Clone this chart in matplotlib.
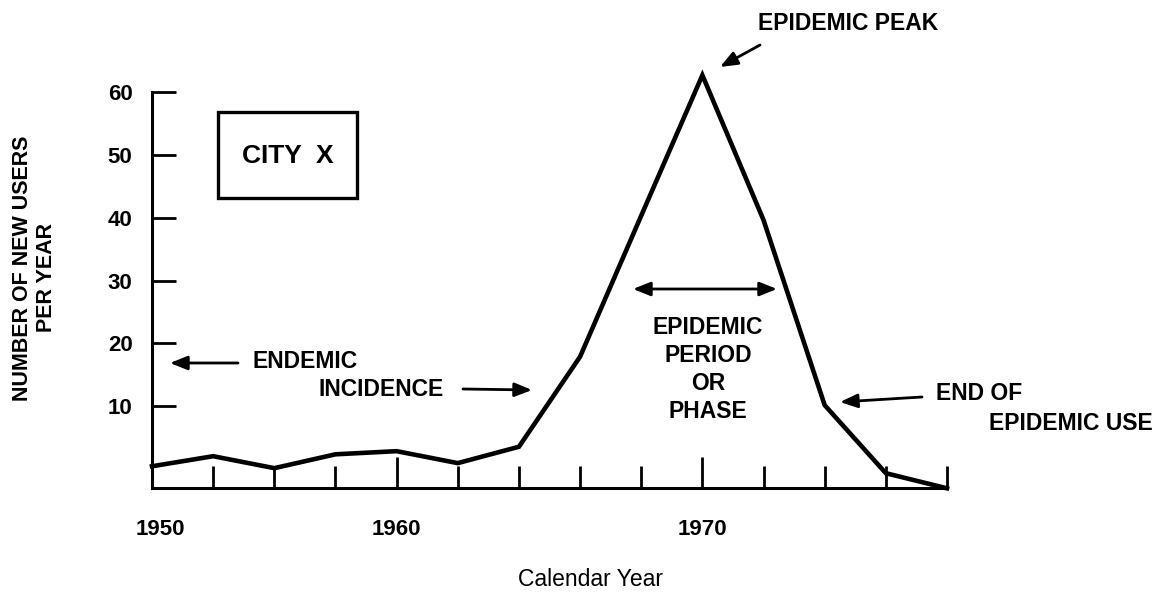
import matplotlib
matplotlib.use('Agg')
import matplotlib.pyplot as plt
import matplotlib.transforms as mtransforms
from matplotlib.patches import Rectangle, FancyArrowPatch

# ---- data ----
period_index = list(range(14))            # one tick per period along the time axis
new_users = [0.5, 2.1, 0.2, 2.4, 2.9, 1.0, 3.6, 17.9, 40.3, 62.6, 39.6, 10.2, -0.6, -3.0]
year_tick_index = [0, 4, 9]
year_tick_labels = ['1950', '1960', '1970']
y_ticks = [10, 20, 30, 40, 50, 60]
period_lines = ['EPIDEMIC', 'PERIOD', 'OR', 'PHASE']

plt.rcParams['font.family'] = ['Liberation Sans', 'DejaVu Sans']

W, H = 1162, 594
fig = plt.figure(figsize=(W / 100, H / 100), dpi=100)


def fx(x):
    return x / W


def fy(y):
    return 1 - y / H


left, right, top, bottom = 152, 947, 91.6, 488
ax = fig.add_axes([fx(left), fy(bottom), (right - left) / W, (bottom - top) / H])
ax.plot(period_index, new_users, color='black', lw=3.3, solid_joinstyle='miter',
        clip_on=False, zorder=3)
ax.set_xlim(0, 13)
ax.set_ylim(-2.95, 60)
for s in ['top', 'right']:
    ax.spines[s].set_visible(False)
for s in ['left', 'bottom']:
    ax.spines[s].set_linewidth(2.2)

ax.set_xticks(year_tick_index)
ax.set_xticklabels(year_tick_labels, fontsize=16, fontweight='bold')
minor = [i for i in period_index if i not in year_tick_index]
ax.set_xticks(minor, minor=True)
ax.tick_params(axis='x', which='major', direction='in', length=22, width=2, pad=22)
ax.tick_params(axis='x', which='minor', direction='in', length=16, width=2)
ax.set_yticks(y_ticks)
ax.set_yticklabels([str(v) for v in y_ticks], fontsize=16, fontweight='bold')
ax.tick_params(axis='y', direction='in', length=17, width=2, pad=14)

# first year label sits a little right of the axis corner in the reference
first_lbl = ax.get_xticklabels()[0]
first_lbl.set_transform(first_lbl.get_transform() +
                        mtransforms.ScaledTranslation(8 / 100, 0, fig.dpi_scale_trans))

# axis titles
fig.text(fx(23), fy(268), 'NUMBER OF NEW USERS', rotation=90, ha='center', va='center',
         fontsize=15.5, fontweight='bold')
fig.text(fx(47), fy(278), 'PER YEAR', rotation=90, ha='center', va='center',
         fontsize=15.5, fontweight='bold')
fig.text(fx(590), fy(580), 'Calendar Year', ha='center', va='center', fontsize=16.5)

# City box
fig.patches.append(Rectangle((fx(218), fy(198)), fx(357) - fx(218), fy(112) - fy(198),
                             transform=fig.transFigure, fill=False, lw=2.4,
                             edgecolor='black'))
fig.text(fx(288), fy(156), 'CITY  X', ha='center', va='center', fontsize=19,
         fontweight='bold')

tfs = 16.5
arrow = dict(arrowstyle='-|>,head_length=0.7,head_width=0.28', color='black', lw=2,
             shrinkA=0, shrinkB=0, mutation_scale=15)
dbl = dict(arrowstyle='<|-|>,head_length=0.7,head_width=0.28', color='black', lw=2,
           shrinkA=0, shrinkB=0, mutation_scale=15)


def arr(x0, y0, x1, y1, props=arrow):
    fig.add_artist(FancyArrowPatch((fx(x0), fy(y0)), (fx(x1), fy(y1)),
                                   transform=fig.transFigure, **props))


# Epidemic peak
fig.text(fx(848), fy(24), 'EPIDEMIC PEAK', ha='center', va='center', fontsize=tfs,
         fontweight='bold')
arr(760, 45, 720, 67)

# Epidemic period
arr(633, 289, 777, 289, dbl)
for i, line in enumerate(period_lines):
    fig.text(fx(708), fy(328 + 27.7 * i), line, ha='center', va='center', fontsize=tfs,
             fontweight='bold')

# End of epidemic use
fig.text(fx(936), fy(393), 'END OF', ha='left', va='center', fontsize=tfs,
         fontweight='bold')
fig.text(fx(989), fy(424), 'EPIDEMIC USE', ha='left', va='center', fontsize=tfs,
         fontweight='bold')
arr(922, 397, 840, 402)

# Endemic incidence
fig.text(fx(252), fy(362), 'ENDEMIC', ha='left', va='center', fontsize=tfs,
         fontweight='bold')
arr(238, 363, 170, 363)
fig.text(fx(318), fy(390), 'INCIDENCE', ha='left', va='center', fontsize=tfs,
         fontweight='bold')
arr(463, 389, 532, 390)

fig.savefig('out.png', dpi=100, facecolor='white')
